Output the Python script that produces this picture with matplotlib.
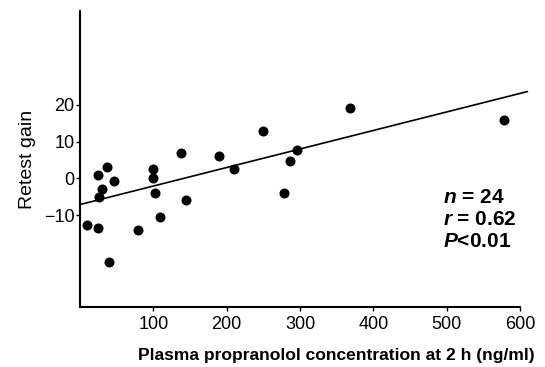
import matplotlib.pyplot as plt

plt.rcParams['font.family'] = ['Liberation Sans', 'DejaVu Sans']
plt.rcParams['mathtext.fontset'] = 'custom'
plt.rcParams['mathtext.it'] = 'Liberation Sans:italic:bold'
plt.rcParams['mathtext.rm'] = 'Liberation Sans:bold'

# --- Daten ---
conc = [10, 24, 24, 37, 30, 26, 46, 39, 79, 99, 99, 102, 109, 138, 144,
        189, 210, 250, 278, 286, 296, 368, 578]
gain = [-12.6, -13.4, 1.0, 3.1, -2.8, -5.1, -0.8, -22.7, -13.9, 2.6, 0.0, -4.1,
        -10.4, 7.0, -5.8, 6.2, 2.6, 12.9, -4.1, 4.7, 7.8, 19.2, 16.0]
fit_x = [0, 610]
fit_y = [-7.1, 23.6]
x_ticks = [100, 200, 300, 400, 500, 600]
y_ticks = [-10, 0, 10, 20]
stats_lines = ['$n$ = 24', '$r$ = 0.62', '$P$<0.01']

fig = plt.figure(figsize=(5.45, 3.67), dpi=100)
ax = fig.add_axes([0.147, 0.163, 0.807, 0.807])

ax.scatter(conc, gain, s=52, color='black', zorder=3, linewidths=0)
ax.plot(fit_x, fit_y, color='black', lw=1.2, clip_on=False)

ax.set_xlim(0, 600)
ax.set_ylim(-35, 45.5)
ax.set_xticks(x_ticks)
ax.set_yticks(y_ticks)
ax.set_yticklabels(['\u221210', '0', '10', '20'])
ax.tick_params(direction='out', length=3, width=1, labelsize=13)
ax.tick_params(axis='x', pad=3)
ax.tick_params(axis='y', pad=1)
for side in ['top', 'right']:
    ax.spines[side].set_visible(False)
for side in ['left', 'bottom']:
    ax.spines[side].set_linewidth(1.5)

ax.set_ylabel('Retest gain', fontsize=14, labelpad=6)
fig.text(0.617, 0.03, 'Plasma propranolol concentration at 2 h (ng/ml)',
         fontsize=12.6, fontweight='bold', ha='center', va='center')

for i, line in enumerate(stats_lines):
    ax.text(0.825, 0.351 - i * 0.074, line, transform=ax.transAxes,
            fontsize=15, fontweight='bold', va='baseline', ha='left')

fig.savefig('out.png', dpi=100)
